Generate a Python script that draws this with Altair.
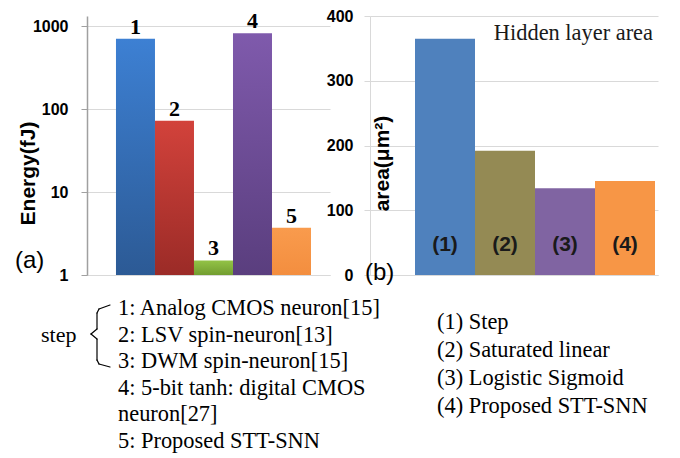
import altair as alt
import pandas as pd

# ---- data ----
energy_ids = ["1", "2", "3", "4", "5"]
energy_vals = [700, 72, 1.5, 820, 3.7]
energy_top = ["#3d80d3", "#d2423b", "#93c346", "#7f5aac", "#f99b4d"]
energy_bottom = ["#2c5a95", "#9b2b27", "#729d30", "#5a3e7e", "#f38e3f"]
energy_ticks = [1, 10, 100, 1000]

area_ids = ["(1)", "(2)", "(3)", "(4)"]
area_vals = [365, 192, 134, 145]
area_colors = ["#4f81bd", "#948a54", "#8064a2", "#f79646"]
area_ticks = [0, 100, 200, 300, 400]

left_notes = [
    "1: Analog CMOS neuron[15]",
    "2: LSV spin-neuron[13]",
    "3: DWM spin-neuron[15]",
    "4: 5-bit tanh: digital CMOS",
    "neuron[27]",
    "5: Proposed STT-SNN",
]
right_notes = [
    "(1) Step",
    "(2) Saturated linear",
    "(3) Logistic Sigmoid",
    "(4) Proposed STT-SNN",
]

SANS = "Arial, 'Liberation Sans', Helvetica, sans-serif"
SERIF = "'Times New Roman', 'Liberation Serif', Times, serif"

df_e = pd.DataFrame({"id": energy_ids, "energy": energy_vals})
df_a = pd.DataFrame({"id": area_ids, "area": area_vals})
one = alt.Data(values=[{}])

H = 259  # plot height (both panels)

# ---- left panel: energy (log) ----
x_e = alt.X(
    "id:N",
    scale=alt.Scale(domain=energy_ids, paddingInner=0, paddingOuter=0.615, align=0.604),
    axis=alt.Axis(labels=False, ticks=False, title=None, grid=False,
                  domainColor="#d9d9d9", domainWidth=1),
)
y_e = alt.Y(
    "energy:Q",
    scale=alt.Scale(type="log", domain=[1, 1320], nice=False),
    axis=alt.Axis(
        values=energy_ticks, format="d", grid=True, gridColor="#d9d9d9",
        domainColor="#a0a0a0", domainWidth=1.5, tickColor="#a0a0a0", tickSize=6,
        labelFont=SANS, labelFontWeight="bold", labelFontSize=16, labelColor="black",
        labelPadding=13,
        title="Energy(fJ)", titleFont=SANS, titleFontWeight="bold", titleFontSize=21,
        titleColor="black", titleX=-49, titleY=157,
    ),
)

base_e = alt.Chart(df_e)
bar_layers = []
for i, cid in enumerate(energy_ids):
    grad = alt.Gradient(
        gradient="linear",
        stops=[alt.GradientStop(color=energy_top[i], offset=0),
               alt.GradientStop(color=energy_bottom[i], offset=1)],
        x1=0, x2=0, y1=0, y2=1,
    )
    bar_layers.append(
        base_e.transform_filter(alt.datum.id == cid)
        .mark_bar(color=grad)
        .encode(x=x_e, y=y_e, y2=alt.datum(1))
    )

e_labels = base_e.mark_text(
    font=SERIF, fontWeight="bold", fontSize=22, dy=-5, baseline="alphabetic", color="black"
).encode(x=x_e, y=y_e, text="id:N")

a_tag = alt.Chart(one).mark_text(
    text="(a)", font=SANS, fontSize=24, align="left", baseline="alphabetic", color="black"
).encode(x=alt.value(-72), y=alt.value(252))

step_txt = alt.Chart(one).mark_text(
    text="step", font=SERIF, fontSize=22, align="left", baseline="alphabetic", color="black"
).encode(x=alt.value(-46), y=alt.value(326))

notes_l = alt.Chart(one).mark_text(
    text=left_notes, font=SERIF, fontSize=22.4, lineHeight=26.6, align="left",
    baseline="alphabetic", color="black"
).encode(x=alt.value(31), y=alt.value(299))

brace_segments = [
    (23, 289, 12, 293),
    (12, 293, 10, 297),
    (10, 297, 10, 313),
    (10, 313, 4, 318),
    (4, 318, 10, 323),
    (10, 323, 10, 344),
    (10, 344, 12, 348),
    (12, 348, 23, 351),
]
brace = [
    alt.Chart(one).mark_rule(color="black", strokeWidth=1.2, strokeCap="round").encode(
        x=alt.value(a), y=alt.value(b), x2=alt.value(c), y2=alt.value(d)
    )
    for a, b, c, d in brace_segments
]

left = alt.layer(*bar_layers, e_labels, a_tag, step_txt, notes_l, *brace).properties(
    width=243, height=H
)

# ---- right panel: area ----
x_a = alt.X(
    "id:N",
    scale=alt.Scale(domain=area_ids, paddingInner=0, paddingOuter=0.4, align=0.9375),
    axis=alt.Axis(labels=False, ticks=False, title=None, grid=False,
                  domainColor="#d9d9d9", domainWidth=1),
)
y_a = alt.Y(
    "area:Q",
    scale=alt.Scale(domain=[0, 400], nice=False),
    axis=alt.Axis(
        values=area_ticks, grid=True, gridColor="#d9d9d9",
        domainColor="#d9d9d9", tickColor="#d9d9d9", tickSize=6,
        labelFont=SANS, labelFontWeight="bold", labelFontSize=16, labelColor="black",
        labelPadding=11,
        title="area(μm²)", titleFont=SANS, titleFontWeight="bold", titleFontSize=21,
        titleColor="black", titleX=22, titleY=147,
    ),
)

base_a = alt.Chart(df_a)
a_bars = base_a.mark_bar().encode(
    x=x_a, y=y_a,
    color=alt.Color("id:N", scale=alt.Scale(domain=area_ids, range=area_colors), legend=None),
)
a_labels = base_a.mark_text(
    font=SANS, fontWeight="bold", fontSize=21, baseline="alphabetic", color="#1a1a1a"
).encode(x=x_a, y=alt.value(235), text="id:N")

hidden = alt.Chart(one).mark_text(
    text="Hidden layer area", font=SERIF, fontSize=22.4, align="right",
    baseline="alphabetic", color="#1a1a1a"
).encode(x=alt.value(283), y=alt.value(24))

b_tag = alt.Chart(one).mark_text(
    text="(b)", font=SANS, fontSize=24, align="left", baseline="alphabetic", color="black"
).encode(x=alt.value(-5), y=alt.value(264))

notes_r = alt.Chart(one).mark_text(
    text=right_notes, font=SERIF, fontSize=22.4, lineHeight=28, align="left",
    baseline="alphabetic", color="black"
).encode(x=alt.value(67), y=alt.value(313))

right = alt.layer(a_bars, a_labels, hidden, b_tag, notes_r).properties(width=288, height=H)

chart = (
    alt.hconcat(left, right, spacing=40, bounds="flush")
    .properties(padding={"left": 7, "top": 0, "right": 5, "bottom": 5})
    .configure_view(stroke=None)
)

chart.save("out.html", embed_options={"renderer": "svg", "actions": False})
